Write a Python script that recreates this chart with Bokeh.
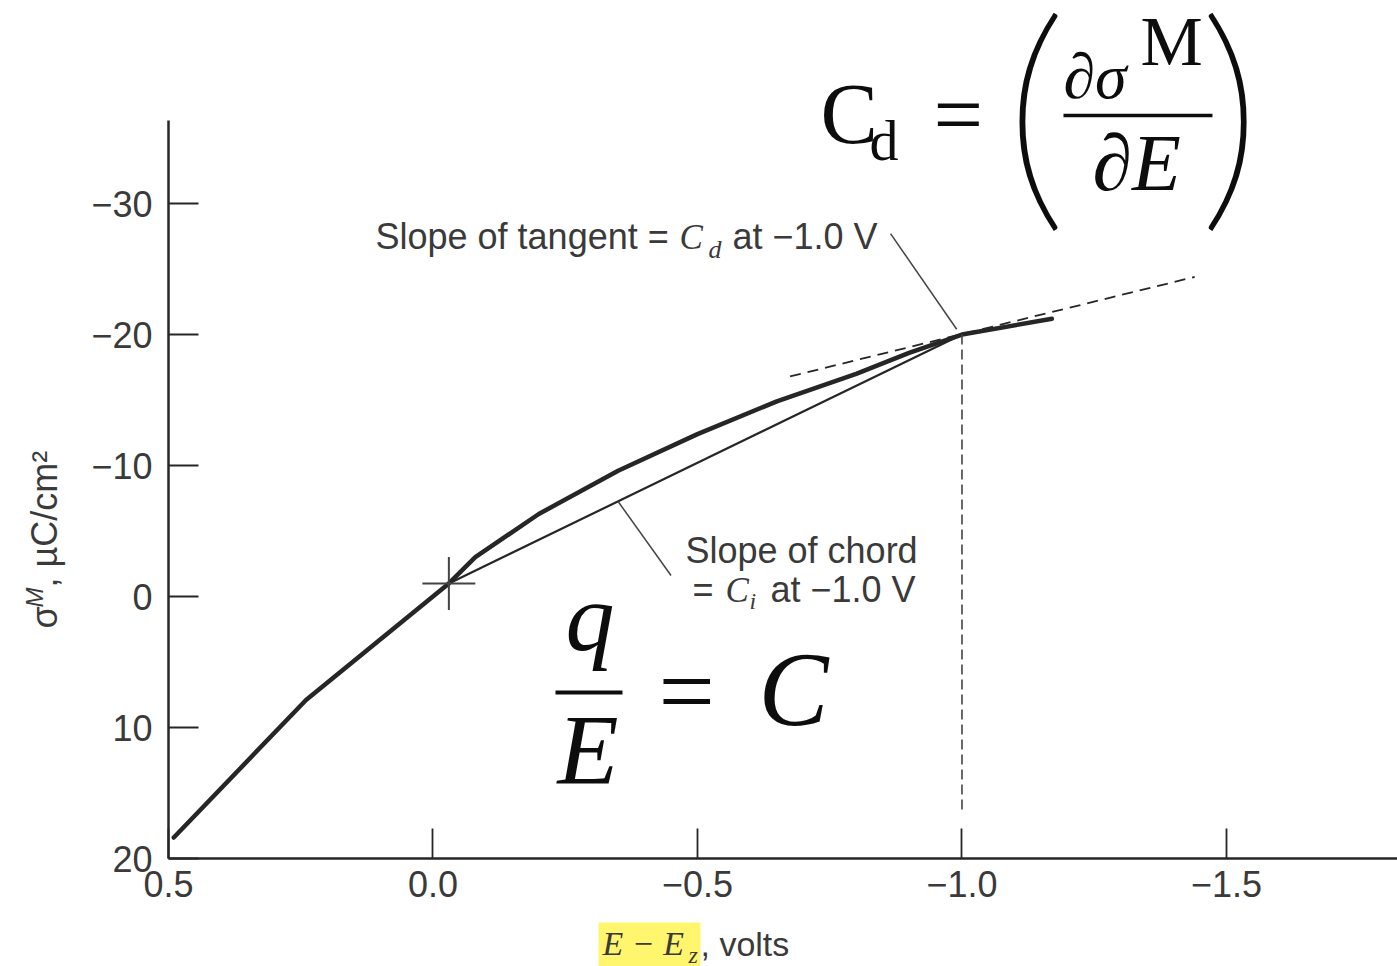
import math

from bokeh.core.properties import value
from bokeh.embed import file_html
from bokeh.models import FixedTicker, Label, Range1d
from bokeh.plotting import figure
from bokeh.resources import INLINE

# Surface charge on the electrode vs. potential relative to the pzc
potential = [0.49, 0.24, -0.03, -0.08, -0.20, -0.35, -0.50, -0.65, -0.80, -0.90, -1.00, -1.17]
charge = [18.4, 7.9, -1.0, -3.0, -6.3, -9.6, -12.4, -14.9, -17.0, -18.6, -20.0, -21.2]

# Point of zero charge marker
pzc_x = [-0.03]
pzc_y = [-1.0]

# Chord from the pzc to the curve at -1.0 V
chord_x = [-0.03, -1.0]
chord_y = [-1.0, -20.0]

# Tangent to the curve at -1.0 V
tangent_x = [-0.675, -1.44]
tangent_y = [-16.8, -24.4]

# Vertical guide at -1.0 V
guide_x = [-1.0, -1.0]
guide_y = [-20.0, 16.3]

# Leader lines for the two notes
tangent_leader_x = [-0.865, -0.99]
tangent_leader_y = [-27.7, -20.4]
chord_leader_x = [-0.35, -0.45]
chord_leader_y = [-7.25, -1.6]

# Axis ticks
x_ticks = [0.5, 0.0, -0.5, -1.0, -1.5]
x_tick_labels = ["0.5", "0.0", "\u22120.5", "\u22121.0", "\u22121.5"]
y_ticks = [-30, -20, -10, 0, 10, 20]
y_tick_labels = ["\u221230", "\u221220", "\u221210", "0", "10", "20"]

INK = "#262626"
NOTE = "#3a3a3a"
BLACK = "#0d0d0d"
SANS = "Liberation Sans"
SERIF = "Liberation Serif"
BASELINE_SHIFT = 0.34  # em, keeps alphabetic baselines where intended

p = figure(
    width=1397,
    height=966,
    output_backend="svg",
    toolbar_location=None,
    x_range=Range1d(0.5, -1.8233),
    y_range=Range1d(20, -45.5),
    min_border_left=168,
    min_border_right=0,
    min_border_top=0,
    min_border_bottom=108,
)
p.outline_line_color = None
p.grid.visible = False
p.background_fill_color = "white"
p.border_fill_color = "white"

for ax in (p.xaxis[0], p.yaxis[0]):
    ax.axis_line_color = INK
    ax.axis_line_width = 2.5
    ax.major_tick_line_color = INK
    ax.major_tick_line_width = 1.8
    ax.major_tick_in = 30
    ax.major_tick_out = 0
    ax.minor_tick_line_color = None
    ax.major_label_text_font = SANS
    ax.major_label_text_font_size = "36px"
    ax.major_label_text_color = NOTE

p.xaxis.ticker = FixedTicker(ticks=x_ticks)
p.xaxis.major_label_overrides = dict(zip(x_ticks, x_tick_labels))
p.xaxis.major_label_standoff = 12
p.yaxis.ticker = FixedTicker(ticks=y_ticks)
p.yaxis.major_label_overrides = dict(zip(y_ticks, y_tick_labels))
p.yaxis.major_label_standoff = 16
p.yaxis.bounds = (-36.34, 20)

# Curve, chord, tangent and guide
p.line(potential, charge, line_color=INK, line_width=4.5, line_join="round", line_cap="round")
p.line(chord_x, chord_y, line_color=INK, line_width=2.2)
p.line(tangent_x, tangent_y, line_color=INK, line_width=1.8, line_dash="11 7")
p.line(guide_x, guide_y, line_color="#444444", line_width=1.6, line_dash="10 5")
p.line(tangent_leader_x, tangent_leader_y, line_color="#444444", line_width=1.5)
p.line(chord_leader_x, chord_leader_y, line_color="#444444", line_width=1.5)
p.scatter(pzc_x, pzc_y, marker="cross", size=53, line_color="#444444", line_width=2)


def note(x, y, text, size, font=SANS, style="normal", color=NOTE, align="left"):
    p.add_layout(Label(x=x, y=y, text=text, text_font=font,
                       text_font_size=f"{size}px", text_font_style=style,
                       text_color=color, text_align=align,
                       text_baseline="alphabetic",
                       y_offset=BASELINE_SHIFT * size))


def outside_text(x, y, text, size, font=SANS, style="normal", angle=0.0):
    # drawn on the overlay level so it is not clipped to the frame
    p.text(x=[x], y=[y], text=[text], text_font=value(font),
           text_font_style=style, text_font_size=f"{size}px",
           text_color=NOTE, text_baseline="alphabetic", angle=angle,
           level="overlay")


# Note about the tangent
note(0.1087, -26.52, "Slope of tangent =", 36)
note(-0.466, -26.52, "C", 35, font=SERIF, style="italic")
note(-0.5208, -25.8, "d", 26, font=SERIF, style="italic")
note(-0.5662, -26.52, "at \u22121.0 V", 36)

# Note about the chord
note(-0.4773, -2.595, "Slope of chord", 36)
note(-0.4905, 0.435, "=", 36)
note(-0.5529, 0.435, "C", 35, font=SERIF, style="italic")
note(-0.5983, 0.99, "i", 24, font=SERIF, style="italic")
note(-0.638, 0.435, "at \u22121.0 V", 36)

# Differential capacitance definition
note(-0.7325, -34.58, "C", 86, font=SERIF, color=BLACK)
note(-0.8251, -33.28, "d", 58, font=SERIF, color=BLACK)
note(-0.946, -34.54, "=", 88, font=SERIF, color=BLACK)
note(-1.0803, -31.15, "(", 248, font="Lato Thin", color=BLACK)
note(-1.5662, -31.15, ")", 248, font="Lato Thin", color=BLACK, align="right")
note(-1.1919, -38.02, "\u2202\u03c3", 64, font=SERIF, style="italic", color=BLACK)
note(-1.3374, -40.53, "M", 70, font=SERIF, color=BLACK)
p.line([-1.1919, -1.4735], [-36.72, -36.72], line_color=BLACK, line_width=3.5)
note(-1.2467, -30.99, "\u2202E", 80, font=SERIF, style="italic", color=BLACK)

# Integral capacitance
note(-0.2505, 4.12, "q", 98, font=SERIF, style="italic", color=BLACK)
p.line([-0.2316, -0.3582], [7.33, 7.33], line_color=BLACK, line_width=4)
note(-0.2354, 14.27, "E", 100, font=SERIF, style="italic", color=BLACK)
note(-0.4263, 9.87, "=", 100, font=SERIF, color=BLACK)
note(-0.6153, 9.85, "C", 105, font=SERIF, style="italic", color=BLACK)

# x-axis title with its highlight
p.quad(left=[-0.3129], right=[-0.5057], top=[24.885], bottom=[28.244],
       fill_color="#fff66e", line_color=None, level="overlay")
outside_text(-0.3204, 26.52, "E \u2212 E", 34, font=SERIF, style="italic")
outside_text(-0.483, 27.39, "z", 24, font=SERIF, style="italic")
outside_text(-0.5057, 26.52, ", volts", 34)

# y-axis title, rotated
outside_text(0.7348, 2.443, "\u03c3", 36, angle=math.pi / 2)
outside_text(0.7537, 0.84, "M", 24, style="italic", angle=math.pi / 2)
outside_text(0.7348, -0.687, ", \u00b5C/cm\u00b2", 36, angle=math.pi / 2)

open("out.html", "w").write(file_html(p, INLINE))
